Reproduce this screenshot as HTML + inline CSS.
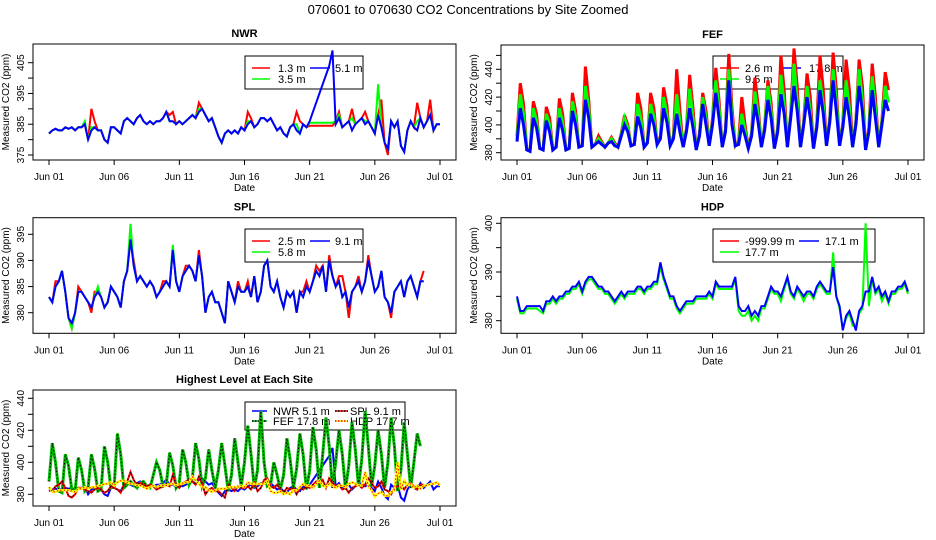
<!DOCTYPE html>
<html><head><meta charset="utf-8"><style>
html,body{margin:0;padding:0;background:#fff;}
svg{display:block;font-family:"Liberation Sans",sans-serif;}
</style></head><body>
<svg id="chart" width="936" height="540" viewBox="0 0 936 540">
<rect width="936" height="540" fill="#fff"/>
<text x="468" y="14" text-anchor="middle" font-size="13">070601  to  070630 CO2 Concentrations by Site Zoomed</text>
</svg>
<script>
// time step: 6 hours; index 0 = Jun 01 00:00
const xTickLabels = ["Jun 01","Jun 06","Jun 11","Jun 16","Jun 21","Jun 26","Jul 01"];
const xTickDays = [0,5,10,15,20,25,30];

const nwr51 = [382,383,383.5,383, 383,384,383.5,384, 383,384,384,385, 380,383,384,383, 383,380,379,384, 384,383,382,386, 387,386,385,387, 388,386,385,386, 385,386,386,387, 389,386,386,385, 386,385,386,387, 388,387,389,390, 388,386,387,384, 381,379,382,383, 382,383,382,384, 383,385,386,384, 385,387,387,386, 387,385,383,384, 382,381,384,385, 383,382,385,384, 386,389,392,395, 398,401,404,409, 385,387,384,385, 386,383,385,386, 387,385,386,384, 382,388,384,379, 377,386,384,386, 378,376,383,386, 384,383,387,384, 386,388,383,385, 385];
const nwr13 = [382,383,383.5,383, 383,384,383.5,384, 383,384,384,385, 380,390,386,383, 383,380,379,384, 384,383,382,386, 387,386,385,387, 388,386,385,386, 385,386,386,387, 389,388,389,385, 386,385,386,387, 388,387,392,390, 388,386,387,384, 381,379,382,383, 382,383,382,384, 383,389,387,384, 385,387,387,386, 387,385,383,384, 382,381,384,385, 389,386,385,384, 384.5,384.5,384.5,384.5, 384.5,384.5,384.5,384.5, 386,389,384,385, 386,390,385,386, 387,389,386,384, 382,388,393,379, 375,386,384,386, 378,376,383,386, 384,392,387,384, 386,393,383,385, 385];
const nwr35 = [382,383,383.5,383, 383,384,383.5,384, 383,384,384,386, 380,384,384,383, 383,380,379,384, 384,383,382,386, 387,386,385,387, 388,386,385,386, 385,386,386,387, 389,386,386,385, 386,385,386,387, 388,387,390,390, 388,386,387,384, 381,379,382,383, 382,383,382,384, 383,386,386,384, 385,387,387,386, 387,385,383,384, 382,381,384,385, 385,382,385,384, 385.5,385.5,385.5,385.5, 385.5,385.5,385.5,385.5, 386,388,384,385, 386,387,385,386, 387,386,386,384, 382,398,384,379, 377,386,384,386, 378,376,383,386, 384,386,387,384, 386,388,383,385, 385];

const fef178 = [388,412,400,382, 381,405,398,383, 382,403,395,382, 384,405,396,382, 383,410,400,384, 385,418,405,384, 386,388,386,384, 387,388,385,384, 392,400,395,385, 386,406,398,384, 387,408,400,386, 390,412,402,385, 390,408,395,384, 395,412,398,382, 392,415,400,385, 400,423,405,384, 395,432,400,385, 386,400,392,383, 392,415,402,384, 396,418,405,383, 395,422,408,384, 405,428,410,384, 400,420,405,383, 398,425,408,385, 402,432,410,385, 398,420,405,384, 400,428,410,382, 395,425,405,384, 400,418,410];
const fef95 = [390,422,408,382, 381,412,403,383, 382,408,400,382, 384,412,402,382, 383,417,406,384, 385,428,412,384, 386,390,387,384, 387,390,386,384, 393,405,398,385, 386,415,405,384, 387,415,406,386, 391,420,408,385, 391,422,402,384, 396,426,405,382, 393,420,405,385, 402,432,412,384, 396,440,406,385, 387,408,396,383, 393,424,408,384, 398,428,410,383, 397,436,415,384, 407,444,418,384, 401,428,410,383, 400,432,414,385, 404,440,418,385, 400,432,412,384, 402,440,418,382, 397,435,412,384, 402,428,416];
const fef26 = [392,430,415,382, 381,417,408,383, 382,413,405,382, 384,419,408,382, 383,423,410,384, 385,442,418,384, 386,392,388,384, 387,391,387,384, 394,407,400,385, 386,423,412,384, 387,423,412,386, 392,427,414,385, 392,440,410,384, 397,436,412,382, 394,423,410,385, 404,441,418,384, 397,451,412,385, 388,420,400,383, 394,434,414,384, 399,432,416,383, 398,450,425,384, 408,455,428,384, 402,437,420,383, 401,450,425,385, 405,452,426,385, 401,447,425,384, 403,447,428,382, 398,444,420,384, 403,438,425];

const spl91 = [383,382,385,386, 388,384,379,378, 380,384,384,383, 382,381,383,384, 383,381,382,385, 384,383,381,386, 388,394,389,386, 387,386,385,386, 385,383,384,385, 386,385,392,386, 384,387,388,389, 388,386,391,387, 380,383,384,382, 382,380,378,386, 384,382,385,384, 384,385,383,387, 382,384,389,390, 385,384,386,383, 381,384,383,384, 380,384,383,385, 384,386,388,387, 389,384,390,387, 385,386,383,384, 381,384,385,386, 384,386,390,387, 384,385,388,383, 382,380,384,385, 386,383,386,387, 385,383,386,386];
const spl25 = [383,382,386,386, 388,384,379,377, 380,385,384,383, 382,380,384,384, 383,381,382,385, 384,383,381,386, 388,394,390,386, 387,386,385,386, 385,383,384,386, 386,385,392,386, 384,387,389,389, 388,386,392,387, 380,383,384,382, 382,380,378,386, 384,382,386,384, 384,386,383,387, 382,384,389,390, 385,384,386,383, 381,384,383,384, 380,384,384,386, 384,386,389,388, 389,384,391,387, 385,387,387,384, 379,384,385,387, 384,386,391,387, 384,385,388,383, 382,379,384,385, 386,383,386,387, 385,383,386,388];
const spl58 = [383,382,385,386, 388,384,379,377, 380,384,384,383, 382,381,383,385, 383,381,382,385, 384,383,381,386, 388,397,389,386, 387,386,385,386, 385,383,384,385, 386,385,393,386, 384,387,388,389, 388,386,391,387, 380,383,384,382, 382,380,378,386, 384,382,385,384, 384,385,383,387, 382,384,389,390, 385,384,386,383, 381,384,383,384, 380,384,383,385, 384,386,388,387, 389,384,390,387, 385,386,383,384, 381,384,385,386, 384,386,390,387, 384,385,388,383, 382,380,384,385, 386,383,386,387, 385,383,386,386];

const hdp171 = [385,382,382,383, 383,383,383,383, 382,384,384,385, 384,385,385,386, 386,387,387,388, 386,388,389,389, 388,387,387,386, 386,385,384,385, 386,385,386,386, 386,387,387,386, 387,387,388,388, 392,389,387,385, 385,383,382,383, 384,384,384,385, 385,385,385,386, 385,388,387,387, 387,387,387,389, 383,382,382,383, 381,382,381,383, 383,385,387,386, 386,385,387,389, 386,385,387,386, 385,386,386,385, 387,388,387,386, 386,391,385,383, 378,381,382,380, 378,382,383,386, 386,389,386,387, 385,386,384,386, 386,387,387,388, 386];
const hdp177 = [384.5,381.5,381.5,382.5, 382.5,382.5,382.5,382, 381.5,383.5,383.5,384.5, 383.5,384.5,384.5,385.5, 385.5,386.5,386.5,387.5, 385.5,387.5,388.5,388.5, 387.5,386.5,386.5,385.5, 385.5,384.5,383.5,384.5, 385.5,384.5,385.5,385.5, 385.5,386.5,386.5,385.5, 386.5,386.5,387.5,387.5, 391,388.5,386.5,384.5, 384.5,382.5,381.5,382.5, 383.5,383.5,383.5,384.5, 384.5,384.5,384.5,385.5, 384.5,387.5,386.5,386.5, 386.5,386.5,386.5,388.5, 382,381,381,382, 380,381,380,382.5, 382.5,384.5,386.5,385.5, 385.5,384,386.5,388.5, 385.5,384.5,386.5,385.5, 384,385.5,385.5,384.5, 386.5,387.5,386.5,385.5, 385.5,394,385,382.5, 378.5,380.5,381.5,379, 379,381.5,382.5,400, 383,388.5,385.5,386.5, 384,385.5,383.5,385.5, 385.5,386.5,386.5,387.5, 385.5];

const svg = document.getElementById('chart');
const NS = 'http://www.w3.org/2000/svg';
function mk(tag, attrs, parent){
  const e = document.createElementNS(NS, tag);
  for (const k in attrs) e.setAttribute(k, attrs[k]);
  (parent||svg).appendChild(e);
  return e;
}

function panel(cfg){
  const g = mk('g', {});
  
  
  const xScale = d => cfg.xd0 + d * (cfg.xd30 - cfg.xd0) / 30;
  const yScale = v => cfg.yA + (v - cfg.vA) * (cfg.yB - cfg.yA) / (cfg.vB - cfg.vA);
  const t = mk('text', {x:(cfg.x0+cfg.x1)/2, y:cfg.y0-7, 'text-anchor':'middle', 'font-size':11, 'font-weight':'bold'}, g);
  t.textContent = cfg.title;
  
  
  // legend (drawn before data)
  const lg = mk('g', {}, g);
  
  
  mk('rect', {x:cfg.leg.x, y:cfg.leg.y, width:cfg.leg.w, height:cfg.leg.h, fill:'none', stroke:'#000', 'stroke-width':1}, lg);
  cfg.leg.items.forEach(it => {
    const e = mk('g', {}, lg);
    
    
    mk('line', {x1:it.lx, x2:it.lx+it.lw, y1:it.y, y2:it.y, stroke:it.color, 'stroke-width':1.5}, e);
    if (it.dash) mk('line', {x1:it.lx, x2:it.lx+it.lw, y1:it.y, y2:it.y, stroke:it.dash, 'stroke-width':1.5, 'stroke-dasharray':'1.5,1.5'}, e);
    const tx = mk('text', {x:it.tx, y:it.y+4, 'font-size':11}, e);
    tx.textContent = it.label;
  });
  // data
  const dg = mk('g', {}, g);
  cfg.series.forEach(s => {
    const pts = s.values.map((v,i) => xScale(i/4).toFixed(1) + ',' + yScale(v).toFixed(1)).join(' ');
    const p = mk('polyline', {points:pts, fill:'none', stroke:s.color, 'stroke-width':s.w||2, 'stroke-linejoin':'miter'}, dg);
    
    
    if (s.dash){
      const q = mk('polyline', {points:pts, fill:'none', stroke:s.dash, 'stroke-width':1, 'stroke-dasharray':'1.5,2'}, dg);
      
      
    }
  });
  // box
  const box = mk('rect', {x:cfg.x0, y:cfg.y0, width:cfg.x1-cfg.x0, height:cfg.y1-cfg.y0, fill:'none', stroke:'#000', 'stroke-width':1}, g);
  
  
  // x axis
  const xa = mk('g', {}, g);
  
  
  xTickDays.forEach((d,i) => {
    const x = xScale(d);
    mk('line', {x1:x, x2:x, y1:cfg.y1, y2:cfg.y1+5, stroke:'#000'}, xa);
    const tl = mk('text', {x:x, y:cfg.y1+20, 'text-anchor':'middle', 'font-size':10}, xa);
    tl.textContent = xTickLabels[i];
  });
  const xl = mk('text', {x:(cfg.x0+cfg.x1)/2, y:cfg.y1+31, 'text-anchor':'middle', 'font-size':10}, g);
  xl.textContent = 'Date';
  
  
  // y axis
  const ya = mk('g', {}, g);
  
  
  cfg.yTicks.forEach(v => {
    const y = yScale(v);
    mk('line', {x1:cfg.x0-5, x2:cfg.x0, y1:y, y2:y, stroke:'#000'}, ya);
  });
  cfg.yLabels.forEach(v => {
    const y = yScale(v);
    const tx = cfg.x0 - 9;
    const tl = mk('text', {x:tx, y:y, 'text-anchor':'middle', 'font-size':10, transform:`rotate(-90 ${tx} ${y})`}, ya);
    tl.textContent = v;
  });
  const yl = mk('text', {x:cfg.x0-24, y:(cfg.y0+cfg.y1)/2, 'text-anchor':'middle', 'font-size':10, transform:`rotate(-90 ${cfg.x0-24} ${(cfg.y0+cfg.y1)/2})`}, g);
  yl.textContent = 'Measured CO2 (ppm)';
  
  
}

const L = {x0:33, x1:456, xd0:49, xd30:440};
const R = {x0:501, x1:924, xd0:517, xd30:908};

panel(Object.assign({}, L, {name:'nwr', title:'NWR', y0:44, y1:160, vA:405, yA:62.7, vB:375, yB:155,
  yTicks:[375,380,385,390,395,400,405], yLabels:[375,385,395,405],
  leg:{x:245, y:56, w:118, h:33, items:[
    {label:'1.3 m', color:'#f00', lx:252, lw:18, tx:278, y:68},
    {label:'3.5 m', color:'#0f0', lx:252, lw:18, tx:278, y:79},
    {label:'5.1  m', color:'#00f', lx:310, lw:20, tx:335, y:68}]},
  series:[{name:'nwr-1.3m-line', values:nwr13, color:'#f00'},{name:'nwr-3.5m-line', values:nwr35, color:'#0f0'},{name:'nwr-5.1m-line', values:nwr51, color:'#00f'}]}));

panel(Object.assign({}, R, {name:'fef', title:'FEF', y0:45, y1:160, vA:440, yA:69.3, vB:380, yB:152.7,
  yTicks:[380,390,400,410,420,430,440,450], yLabels:[380,400,420,440],
  leg:{x:713, y:56, w:130, h:33, items:[
    {label:'2.6 m', color:'#f00', lx:720, lw:19, tx:745, y:68},
    {label:'9.5 m', color:'#0f0', lx:720, lw:19, tx:745, y:79},
    {label:'17.8 m', color:'#00f', lx:781, lw:20, tx:809, y:68}]},
  series:[{name:'fef-2.6m-line', values:fef26, color:'#f00', w:3},{name:'fef-9.5m-line', values:fef95, color:'#0f0', w:3},{name:'fef-17.8m-line', values:fef178, color:'#00f', w:3}]}));

panel(Object.assign({}, L, {name:'spl', title:'SPL', y0:217.7, y1:333.3, vA:395, yA:234.3, vB:380, yB:312.7,
  yTicks:[380,385,390,395], yLabels:[380,385,390,395],
  leg:{x:245, y:229, w:118, h:33, items:[
    {label:'2.5 m', color:'#f00', lx:252, lw:18, tx:278, y:241},
    {label:'5.8 m', color:'#0f0', lx:252, lw:18, tx:278, y:252},
    {label:'9.1  m', color:'#00f', lx:310, lw:20, tx:335, y:241}]},
  series:[{name:'spl-2.5m-line', values:spl25, color:'#f00'},{name:'spl-5.8m-line', values:spl58, color:'#0f0'},{name:'spl-9.1m-line', values:spl91, color:'#00f'}]}));

panel(Object.assign({}, R, {name:'hdp', title:'HDP', y0:217.7, y1:333.3, vA:400, yA:223.3, vB:380, yB:320.7,
  yTicks:[380,385,390,395,400], yLabels:[380,390,400],
  leg:{x:713, y:229, w:162, h:33, items:[
    {label:'-999.99 m', color:'#f00', lx:720, lw:19, tx:745, y:241},
    {label:'17.7 m', color:'#0f0', lx:720, lw:19, tx:745, y:252},
    {label:'17.1 m', color:'#00f', lx:799, lw:20, tx:825, y:241}]},
  series:[{name:'hdp-17.7m-line', values:hdp177, color:'#0f0'},{name:'hdp-17.1m-line', values:hdp171, color:'#00f'}]}));

panel(Object.assign({}, L, {name:'highest', title:'Highest Level at Each Site', y0:390, y1:506, vA:440, yA:398.3, vB:380, yB:494.3,
  yTicks:[380,390,400,410,420,430,440], yLabels:[380,400,420,440],
  leg:{x:245, y:402, w:160, h:28, items:[
    {label:'NWR   5.1 m', color:'#00f', lx:252, lw:15, tx:273, y:411},
    {label:'FEF   17.8 m', color:'#0a0', dash:'#000', lx:252, lw:15, tx:273, y:421},
    {label:'SPL   9.1 m', color:'#f00', dash:'#000', lx:335, lw:13, tx:350, y:411},
    {label:'HDP   17.7 m', color:'#ff0', dash:'#f00', lx:335, lw:13, tx:350, y:421}]},
  series:[{name:'highest-nwr-line', values:nwr51, color:'#00f'},
          {name:'highest-fef-line', values:fef178, color:'#0b0', w:3, dash:'#000'},
          {name:'highest-spl-line', values:spl91, color:'#f00', dash:'#000'},
          {name:'highest-hdp-line', values:hdp177, color:'#ff0', w:2.5, dash:'#f00'}]}));
</script>
</body></html>
